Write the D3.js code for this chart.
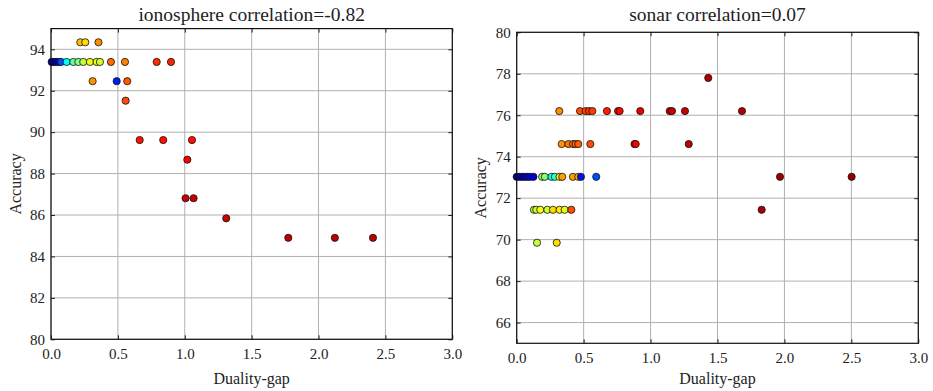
<!DOCTYPE html>
<html><head><meta charset="utf-8">
<script src="https://cdn.jsdelivr.net/npm/d3@7"></script>
</head><body style="margin:0;background:#fff"><svg id="c" width="933" height="391" style="display:block;font-family:'Liberation Serif'"></svg>
<script>
// ---------- data ----------
const xTicks = [0.0, 0.5, 1.0, 1.5, 2.0, 2.5, 3.0];
const ionoYTicks = [80, 82, 84, 86, 88, 90, 92, 94];
const sonarYTicks = [66, 68, 70, 72, 74, 76, 78, 80];

const ionoTitle = "ionosphere correlation=-0.82";
const sonarTitle = "sonar correlation=0.07";

// ionosphere: duality gap, accuracy, colour value (0..1 on jet)
const ionoGap = [0.219, 0.256, 0.355,
  0.005, 0.02, 0.04, 0.06, 0.075, 0.117, 0.167, 0.204, 0.241, 0.291, 0.341, 0.366, 0.448, 0.553, 0.790, 0.897,
  0.311, 0.491, 0.570,
  0.558,
  0.663, 0.839, 1.054,
  1.019,
  1.006, 1.066,
  1.310,
  1.774, 2.122, 2.407];
const ionoAcc = [94.34, 94.34, 94.34,
  93.39, 93.39, 93.39, 93.39, 93.39, 93.39, 93.39, 93.39, 93.39, 93.39, 93.39, 93.39, 93.39, 93.39, 93.39, 93.39,
  92.46, 92.46, 92.46,
  91.52,
  89.62, 89.62, 89.62,
  88.67,
  86.81, 86.81,
  85.84,
  84.90, 84.90, 84.90];
const ionoCol = [0.69, 0.66, 0.74,
  0.0, 0.02, 0.05, 0.08, 0.2, 0.38, 0.47, 0.5, 0.56, 0.61, 0.6, 0.58, 0.77, 0.75, 0.83, 0.84,
  0.73, 0.15, 0.79,
  0.8,
  0.86, 0.86, 0.86,
  0.88,
  0.93, 0.93,
  0.93,
  0.94, 0.94, 0.94];

// sonar
const sonarGap = [1.431,
  0.318, 0.473, 0.515, 0.540, 0.565, 0.674, 0.757, 0.769, 0.923, 1.143, 1.160, 1.257, 1.683,
  0.336, 0.386, 0.421, 0.440, 0.460, 0.550, 0.880, 0.889, 1.285,
  0.0, 0.02, 0.04, 0.06, 0.08, 0.10, 0.125, 0.19, 0.21, 0.26, 0.285, 0.32, 0.34, 0.42, 0.46, 0.48, 0.594, 1.967, 2.502,
  0.129, 0.146, 0.176, 0.229, 0.271, 0.321, 0.358, 0.408, 1.830,
  0.152, 0.299];
const sonarAcc = [77.80,
  76.20, 76.20, 76.20, 76.20, 76.20, 76.20, 76.20, 76.20, 76.20, 76.20, 76.20, 76.20, 76.20,
  74.61, 74.61, 74.61, 74.61, 74.61, 74.61, 74.61, 74.61, 74.61,
  73.03, 73.03, 73.03, 73.03, 73.03, 73.03, 73.03, 73.03, 73.03, 73.03, 73.03, 73.03, 73.03, 73.03, 73.03, 73.03, 73.03, 73.03, 73.03,
  71.44, 71.44, 71.44, 71.44, 71.44, 71.44, 71.44, 71.44, 71.44,
  69.85, 69.85];
const sonarCol = [0.95,
  0.74, 0.8, 0.81, 0.82, 0.82, 0.85, 0.86, 0.87, 0.9, 0.93, 0.93, 0.93, 0.95,
  0.73, 0.76, 0.77, 0.78, 0.78, 0.8, 0.88, 0.88, 0.94,
  0.0, 0.02, 0.04, 0.06, 0.08, 0.1, 0.08, 0.55, 0.5, 0.4, 0.42, 0.63, 0.72, 0.72, 0.7, 0.14, 0.2, 0.97, 0.98,
  0.56, 0.57, 0.62, 0.57, 0.66, 0.64, 0.6, 0.8, 0.96,
  0.57, 0.66];

// ---------- drawing ----------
const FONT = "'Liberation Serif'";
function jet(t) {
  const c = v => Math.max(0, Math.min(1, v));
  const r = c(1.5 - Math.abs(4 * t - 3)), g = c(1.5 - Math.abs(4 * t - 2)), b = c(1.5 - Math.abs(4 * t - 1));
  return d3.rgb(r * 255, g * 255, b * 255).toString();
}

const svg = d3.select("#c");

function panel(cfg) {
  const x = d3.scaleLinear().domain([0, 3]).range([cfg.left, cfg.right]);
  const y = d3.scaleLinear().domain(cfg.yDomain).range([cfg.bottom, cfg.top]);
  const g = svg.append("g");
  // grid
  g.append("g").selectAll("line").data(xTicks).join("line")
    .attr("x1", d => x(d)).attr("x2", d => x(d)).attr("y1", cfg.top).attr("y2", cfg.bottom)
    .attr("stroke", "#b0b0b0").attr("stroke-width", 1);
  g.append("g").selectAll("line").data(cfg.yTicks).join("line")
    .attr("y1", d => y(d)).attr("y2", d => y(d)).attr("x1", cfg.left).attr("x2", cfg.right)
    .attr("stroke", "#b0b0b0").attr("stroke-width", 1);
  // axes (inward ticks)
  const tk = 4;
  const bx = g.append("g").attr("transform", `translate(0,${cfg.bottom})`)
    .call(d3.axisBottom(x).tickValues(xTicks).tickFormat(d3.format(".1f")).tickSizeInner(-tk).tickSizeOuter(0).tickPadding(9));
  const tx = g.append("g").attr("transform", `translate(0,${cfg.top})`)
    .call(d3.axisTop(x).tickValues(xTicks).tickFormat("").tickSizeInner(-tk).tickSizeOuter(0));
  const ly = g.append("g").attr("transform", `translate(${cfg.left},0)`)
    .call(d3.axisLeft(y).tickValues(cfg.yTicks).tickFormat(d3.format("d")).tickSizeInner(-tk).tickSizeOuter(0).tickPadding(6));
  const ry = g.append("g").attr("transform", `translate(${cfg.right},0)`)
    .call(d3.axisRight(y).tickValues(cfg.yTicks).tickFormat("").tickSizeInner(-tk).tickSizeOuter(0));
  [bx, tx, ly, ry].forEach(a => {
    a.attr("font-family", FONT).attr("font-size", 15);
    a.select(".domain").remove();
    a.selectAll(".tick line").attr("stroke", "#222");
    a.selectAll("text").style("font-family", FONT).style("font-size", "15px").attr("fill", "#222");
  });
  // frame
  g.append("rect").attr("x", cfg.left).attr("y", cfg.top).attr("width", cfg.right - cfg.left).attr("height", cfg.bottom - cfg.top)
    .attr("fill", "none").attr("stroke", "#111").attr("stroke-width", 1.2);
  // points
  const pts = cfg.gap.map((v, i) => ({ x: v, y: cfg.acc[i], c: cfg.col[i] }));
  g.append("g").selectAll("circle").data(pts).join("circle")
    .attr("cx", d => x(d.x)).attr("cy", d => y(d.y)).attr("r", 3.6)
    .attr("fill", d => jet(d.c)).attr("stroke", "#111").attr("stroke-width", 0.8);
  // titles
  g.append("text").attr("x", (cfg.left + cfg.right) / 2).attr("y", 21).attr("text-anchor", "middle")
    .style("font-family", FONT).style("font-size", "19.5px").attr("fill", "#222").text(cfg.title);
  g.append("text").attr("x", (cfg.left + cfg.right) / 2).attr("y", cfg.xlabY).attr("text-anchor", "middle")
    .style("font-family", FONT).style("font-size", "16px").attr("fill", "#222").text("Duality-gap");
  g.append("text").attr("transform", `translate(${cfg.ylabX},${(cfg.top + cfg.bottom) / 2}) rotate(-90)`)
    .attr("text-anchor", "middle").style("font-family", FONT).style("font-size", "16px").attr("fill", "#222").text("Accuracy");
}

panel({ left: 51, right: 452.3, top: 28.6, bottom: 339.3, yDomain: [80, 95], yTicks: ionoYTicks,
  gap: ionoGap, acc: ionoAcc, col: ionoCol, title: ionoTitle, xlabY: 384, ylabX: 21 });
panel({ left: 516.7, right: 918.3, top: 32.3, bottom: 343.3, yDomain: [65, 80], yTicks: sonarYTicks,
  gap: sonarGap, acc: sonarAcc, col: sonarCol, title: sonarTitle, xlabY: 384, ylabX: 486 });
</script>
</body></html>
